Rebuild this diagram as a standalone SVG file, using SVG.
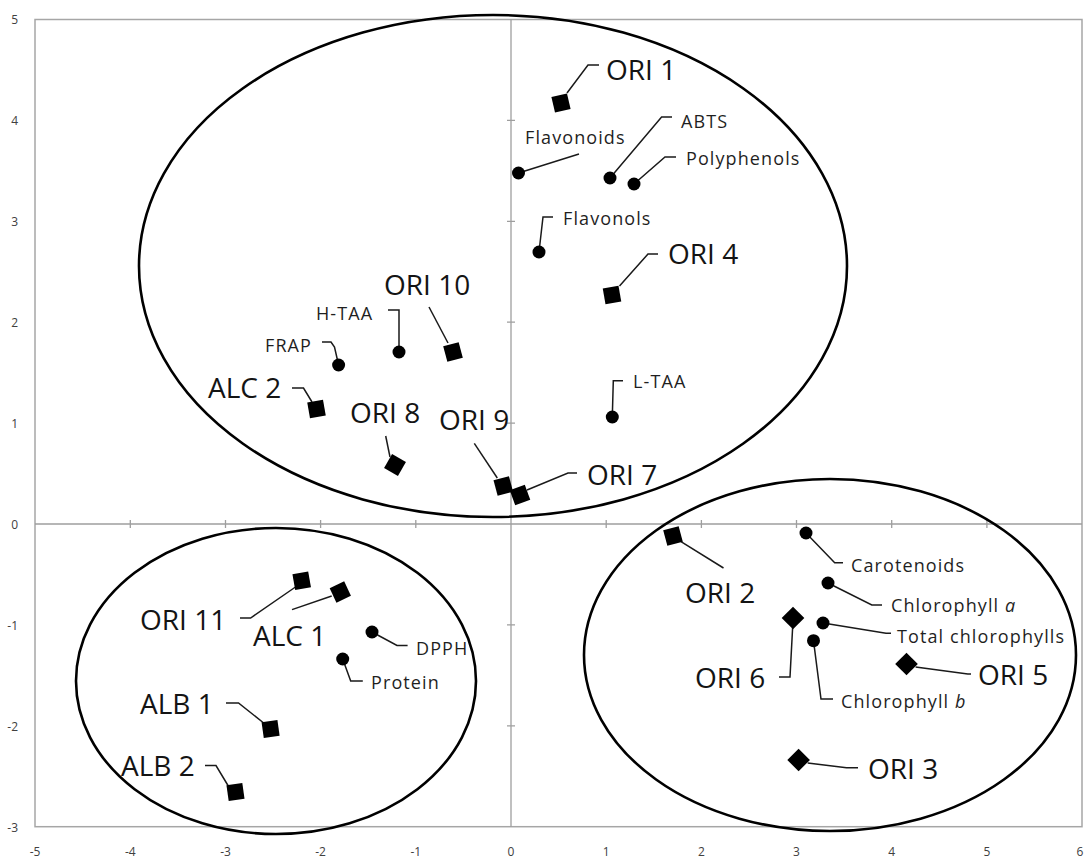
<svg xmlns="http://www.w3.org/2000/svg" xmlns:xlink="http://www.w3.org/1999/xlink" width="1087" height="859" viewBox="0 0 1087 859">
<style>
.frame{fill:none;stroke:#a6a6a6;stroke-width:1.5}
.axis{fill:none;stroke:#9e9e9e;stroke-width:1.3}
.tick{font-family:"Open Sans","Liberation Sans",sans-serif;font-size:12px;fill:#404040}
.ell{fill:none;stroke:#000;stroke-width:2.6}
.lead{fill:none;stroke:#1a1a1a;stroke-width:1.5;stroke-linejoin:miter}
.big{font-family:"Open Sans","Liberation Sans",sans-serif;font-size:28px;fill:#141414}
.sm{font-family:"Open Sans","Liberation Sans",sans-serif;font-size:18px;letter-spacing:1.1px;fill:#1f1f1f}
.mk{fill:#000}
</style>
<defs>
<rect id="sq" x="-8" y="-8" width="16" height="16"/>
</defs>
<rect width="1087" height="859" fill="#fff"/>
<g id="plot-frame">
<rect class="frame" x="35" y="19.5" width="1047" height="807.2"/>
<line class="axis" x1="35" y1="524" x2="1082" y2="524"/>
<line class="axis" x1="511" y1="19.5" x2="511" y2="826.7"/>
<path class="axis" d="M130.3 520v8M225.5 520v8M320.6 520v8M415.8 520v8M606.2 520v8M701.4 520v8M796.5 520v8M891.7 520v8M986.9 520v8M507 120.4h8M507 221.3h8M507 322.2h8M507 423.1h8M507 624.9h8M507 725.8h8"/>
<g class="tick" text-anchor="end">
<text x="18" y="24">5</text><text x="18" y="125">4</text><text x="18" y="226">3</text><text x="18" y="327">2</text><text x="18" y="428">1</text><text x="18" y="529">0</text><text x="18" y="630">-1</text><text x="18" y="731">-2</text><text x="18" y="832">-3</text>
</g>
<g class="tick" text-anchor="middle">
<text x="35" y="856">-5</text><text x="130.3" y="856">-4</text><text x="225.5" y="856">-3</text><text x="320.6" y="856">-2</text><text x="415.8" y="856">-1</text><text x="511" y="856">0</text><text x="606.2" y="856">1</text><text x="701.4" y="856">2</text><text x="796.5" y="856">3</text><text x="891.7" y="856">4</text><text x="986.9" y="856">5</text><text x="1080" y="856">6</text>
</g>
</g>
<g id="clusters">
<ellipse class="ell" cx="493" cy="266" rx="354" ry="251"/>
<ellipse class="ell" cx="276" cy="681" rx="200" ry="153"/>
<ellipse class="ell" cx="830" cy="655" rx="246" ry="176"/>
</g>
<g id="connectors">
<polyline class="lead" points="567,93 588,65 599,65"/>
<polyline class="lead" points="518.5,173 579,154"/>
<polyline class="lead" points="610,178 661.6,117 672,117"/>
<polyline class="lead" points="634,184 665,157 676,157"/>
<polyline class="lead" points="539,252 543,217 553,217"/>
<polyline class="lead" points="619.5,286 648,254 658,254"/>
<polyline class="lead" points="448,343 429,307"/>
<polyline class="lead" points="399,352 399,310 388,310"/>
<polyline class="lead" points="338.6,365 334.5,347 331,342 322,342"/>
<polyline class="lead" points="312,402 303.5,388 292,388"/>
<polyline class="lead" points="390,457 385.7,436"/>
<polyline class="lead" points="497.3,478 474.3,443.3"/>
<polyline class="lead" points="527,490 568,473 577,473"/>
<polyline class="lead" points="612.3,417 613.3,380.7 623,380.7"/>
<polyline class="lead" points="295.5,587 250.6,618 240,618"/>
<polyline class="lead" points="331.7,596 292,609.6"/>
<polyline class="lead" points="372,632 397,645.5 407.6,645.5"/>
<polyline class="lead" points="342.7,659 350.7,681 362.8,681"/>
<polyline class="lead" points="263.7,723 238.5,703 226,703"/>
<polyline class="lead" points="228,785.5 216,765.6 205,765.6"/>
<polyline class="lead" points="681,541.7 723.5,568"/>
<polyline class="lead" points="806,533 834.7,562.7 843,562.7"/>
<polyline class="lead" points="828,583 871.8,605 882,605"/>
<polyline class="lead" points="823,623 886,633.3 891,633.3"/>
<polyline class="lead" points="813.5,640.7 821,699 833,699"/>
<polyline class="lead" points="792.6,628 790,677 779,677"/>
<polyline class="lead" points="915.6,667 967.8,674 971,674"/>
<polyline class="lead" points="807.7,763 846.5,767.7 858,767.7"/>
</g>
<g id="ORI1"><use xlink:href="#sq" class="mk" transform="translate(561,103) rotate(-13)"/><text class="big" x="606" y="80">ORI 1</text></g>
<g id="Flavonoids"><circle class="mk" cx="518.5" cy="173" r="6.5"/><text class="sm" x="525" y="144">Flavonoids</text></g>
<g id="ABTS"><circle class="mk" cx="610" cy="178" r="6.5"/><text class="sm" x="681" y="128">ABTS</text></g>
<g id="Polyphenols"><circle class="mk" cx="634" cy="184" r="6.5"/><text class="sm" x="686" y="165">Polyphenols</text></g>
<g id="Flavonols"><circle class="mk" cx="539" cy="252" r="6.5"/><text class="sm" x="563" y="225">Flavonols</text></g>
<g id="ORI4"><use xlink:href="#sq" class="mk" transform="translate(612,295) rotate(-10)"/><text class="big" x="668" y="264">ORI 4</text></g>
<g id="ORI10"><use xlink:href="#sq" class="mk" transform="translate(453,352) rotate(-15)"/><text class="big" x="384" y="295">ORI 10</text></g>
<g id="H-TAA"><circle class="mk" cx="399" cy="352" r="6.5"/><text class="sm" x="316" y="320">H-TAA</text></g>
<g id="FRAP"><circle class="mk" cx="338.6" cy="365" r="6.5"/><text class="sm" x="265" y="352">FRAP</text></g>
<g id="ALC2"><use xlink:href="#sq" class="mk" transform="translate(316.5,409) rotate(-10)"/><text class="big" x="208" y="398">ALC 2</text></g>
<g id="ORI8"><use xlink:href="#sq" class="mk" transform="translate(395,465) rotate(30)"/><text class="big" x="350" y="423">ORI 8</text></g>
<g id="ORI9"><use xlink:href="#sq" class="mk" transform="translate(503.3,486) rotate(-15)"/><text class="big" x="439" y="430">ORI 9</text></g>
<g id="ORI7"><use xlink:href="#sq" class="mk" transform="translate(520,495) rotate(-20)"/><text class="big" x="587" y="485">ORI 7</text></g>
<g id="L-TAA"><circle class="mk" cx="612.3" cy="417" r="6.5"/><text class="sm" x="633" y="388">L-TAA</text></g>
<g id="ORI11"><use xlink:href="#sq" class="mk" transform="translate(301.7,580.8) rotate(-10)"/><text class="big" x="140" y="630">ORI 11</text></g>
<g id="ALC1"><use xlink:href="#sq" class="mk" transform="translate(340.3,592) rotate(-25)"/><text class="big" x="253" y="646">ALC 1</text></g>
<g id="DPPH"><circle class="mk" cx="372" cy="632" r="6.5"/><text class="sm" x="416" y="655">DPPH</text></g>
<g id="Protein"><circle class="mk" cx="342.7" cy="659" r="6.5"/><text class="sm" x="371" y="689">Protein</text></g>
<g id="ALB1"><use xlink:href="#sq" class="mk" transform="translate(270.6,729) rotate(-8)"/><text class="big" x="140" y="714">ALB 1</text></g>
<g id="ALB2"><use xlink:href="#sq" class="mk" transform="translate(235.5,792) rotate(-8)"/><text class="big" x="121" y="776">ALB 2</text></g>
<g id="ORI2"><use xlink:href="#sq" class="mk" transform="translate(673,536) rotate(-15)"/><text class="big" x="685" y="603">ORI 2</text></g>
<g id="Carotenoids"><circle class="mk" cx="806" cy="533" r="6.5"/><text class="sm" x="851" y="572">Carotenoids</text></g>
<g id="ChlorophyllA"><circle class="mk" cx="828" cy="583" r="6.5"/><text class="sm" x="891" y="612">Chlorophyll <tspan font-style="italic">a</tspan></text></g>
<g id="TotalChlorophylls"><circle class="mk" cx="823" cy="623" r="6.5"/><text class="sm" x="897" y="643">Total chlorophylls</text></g>
<g id="ChlorophyllB"><circle class="mk" cx="813.5" cy="640.7" r="6.5"/><text class="sm" x="841" y="708">Chlorophyll <tspan font-style="italic">b</tspan></text></g>
<g id="ORI6"><use xlink:href="#sq" class="mk" transform="translate(793,618) rotate(45)"/><text class="big" x="695" y="688">ORI 6</text></g>
<g id="ORI5"><use xlink:href="#sq" class="mk" transform="translate(906.5,664) rotate(45)"/><text class="big" x="978" y="685">ORI 5</text></g>
<g id="ORI3"><use xlink:href="#sq" class="mk" transform="translate(798.6,760) rotate(45)"/><text class="big" x="868" y="779">ORI 3</text></g>
</svg>
